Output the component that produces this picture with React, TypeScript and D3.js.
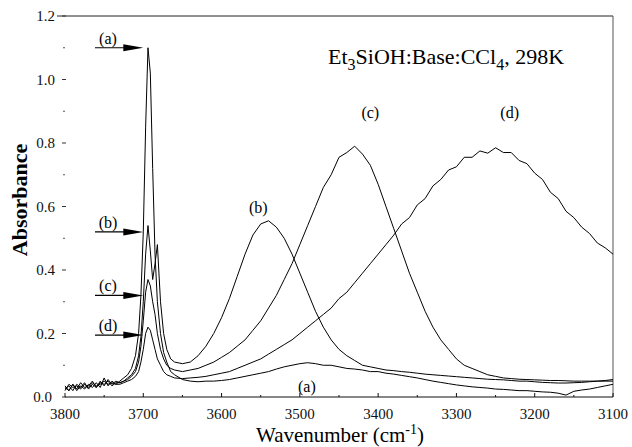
import React from "react";
import * as d3 from "d3";

// ---- data ----
const wavenumbers = [
  3800, 3795, 3790, 3785, 3780, 3775, 3770, 3765, 3760, 3755, 3750, 3745, 3740, 3735, 3730,
  3725, 3720, 3715, 3710, 3706, 3703, 3700, 3697, 3694, 3691, 3688, 3685, 3682, 3678, 3674, 3670, 3665, 3660,
  3650, 3640, 3630, 3620, 3610, 3600, 3590, 3580, 3570, 3560, 3550, 3540, 3530, 3520, 3510, 3500,
  3490, 3480, 3470, 3460, 3450, 3440, 3430, 3420, 3410, 3400, 3390, 3380, 3370, 3360, 3350, 3340,
  3330, 3320, 3310, 3300, 3290, 3280, 3270, 3260, 3250, 3240, 3230, 3220, 3210, 3200, 3190, 3180,
  3170, 3160, 3150, 3140, 3130, 3120, 3110, 3100,
];

const seriesA = [
  0.03, 0.02, 0.04, 0.02, 0.035, 0.025, 0.04, 0.03, 0.045, 0.03, 0.06, 0.035, 0.05, 0.04, 0.05,
  0.06, 0.07, 0.09, 0.13, 0.2, 0.32, 0.52, 0.85, 1.1, 1.02, 0.72, 0.45, 0.3, 0.2, 0.14, 0.11, 0.08, 0.07,
  0.055, 0.05, 0.048, 0.05, 0.05, 0.052, 0.055, 0.06, 0.065, 0.07, 0.075, 0.08, 0.088, 0.095, 0.1, 0.105,
  0.108, 0.105, 0.1, 0.1, 0.095, 0.09, 0.088, 0.085, 0.08, 0.08, 0.075, 0.072, 0.068, 0.064, 0.06, 0.055,
  0.05, 0.046, 0.042, 0.038, 0.035, 0.032, 0.03, 0.028, 0.025, 0.024, 0.022, 0.02, 0.02, 0.018, 0.016, 0.015,
  0.012, 0.006, 0.018, 0.022, 0.025, 0.03, 0.035, 0.04,
];

const seriesB = [
  0.025, 0.035, 0.02, 0.04, 0.03, 0.045, 0.025, 0.04, 0.03, 0.05, 0.035, 0.055, 0.04, 0.05, 0.045,
  0.05, 0.06, 0.07, 0.09, 0.13, 0.19, 0.3, 0.45, 0.54, 0.46, 0.37, 0.42, 0.48, 0.3, 0.2, 0.15, 0.12, 0.11,
  0.105, 0.11, 0.13, 0.16, 0.2, 0.25, 0.31, 0.38, 0.45, 0.51, 0.545, 0.555, 0.535, 0.5, 0.45, 0.39,
  0.33, 0.27, 0.22, 0.18, 0.15, 0.13, 0.115, 0.1, 0.095, 0.09, 0.085, 0.083, 0.08, 0.078, 0.075, 0.072,
  0.07, 0.068, 0.066, 0.064, 0.062, 0.06, 0.058, 0.056, 0.055, 0.054, 0.052, 0.05, 0.05, 0.048, 0.046, 0.045,
  0.044, 0.044, 0.045, 0.046, 0.048, 0.05, 0.052, 0.055,
];

const seriesC = [
  0.035, 0.02, 0.04, 0.025, 0.045, 0.03, 0.035, 0.05, 0.03, 0.045, 0.04, 0.05, 0.035, 0.045, 0.045,
  0.05, 0.055, 0.065, 0.08, 0.11, 0.16, 0.24, 0.33, 0.37, 0.35, 0.3, 0.26, 0.2, 0.15, 0.12, 0.1, 0.09, 0.085,
  0.08, 0.085, 0.09, 0.1, 0.11, 0.125, 0.14, 0.16, 0.18, 0.21, 0.24, 0.28, 0.32, 0.37, 0.42, 0.48,
  0.54, 0.6, 0.66, 0.7, 0.755, 0.77, 0.79, 0.765, 0.73, 0.67, 0.6, 0.53, 0.46, 0.39, 0.33, 0.27,
  0.22, 0.18, 0.15, 0.12, 0.1, 0.09, 0.08, 0.07, 0.065, 0.06, 0.058, 0.056, 0.055, 0.054, 0.053, 0.052,
  0.052, 0.051, 0.05, 0.05, 0.05, 0.05, 0.05, 0.05,
];

const seriesD = [
  0.02, 0.04, 0.03, 0.035, 0.025, 0.04, 0.03, 0.045, 0.035, 0.04, 0.05, 0.04, 0.045, 0.04, 0.04,
  0.045, 0.05, 0.055, 0.065, 0.08, 0.11, 0.15, 0.2, 0.22, 0.21, 0.18, 0.15, 0.12, 0.1, 0.08, 0.07, 0.065, 0.06,
  0.058, 0.06, 0.062, 0.065, 0.07, 0.075, 0.08, 0.09, 0.1, 0.11, 0.12, 0.135, 0.15, 0.165, 0.18, 0.2,
  0.22, 0.24, 0.26, 0.28, 0.31, 0.33, 0.36, 0.39, 0.42, 0.45, 0.48, 0.51, 0.545, 0.565, 0.605, 0.625,
  0.665, 0.685, 0.715, 0.725, 0.755, 0.755, 0.775, 0.768, 0.785, 0.77, 0.77, 0.745, 0.735, 0.705, 0.685, 0.645,
  0.625, 0.585, 0.565, 0.535, 0.515, 0.485, 0.47, 0.45,
];

const seriesList = [seriesA, seriesB, seriesC, seriesD];

const xTicks = [3800, 3700, 3600, 3500, 3400, 3300, 3200, 3100];
const xMinorTicks = [3750, 3650, 3550, 3450, 3350, 3250, 3150];
const yTicks = [0.0, 0.2, 0.4, 0.6, 0.8, 1.0, 1.2];
const yMinorTicks = [0.1, 0.3, 0.5, 0.7, 0.9, 1.1];

// arrow labels at the free O-H peak
const arrowLabels = ["(a)", "(b)", "(c)", "(d)"];
const arrowLevels = [1.1, 0.52, 0.32, 0.195];
const arrowTipWavenumber = 3700;

// band labels
const bandLabels = ["(b)", "(c)", "(d)", "(a)"];
const bandLabelWavenumbers = [3553, 3410, 3232, 3491];
const bandLabelLevels = [0.58, 0.88, 0.88, 0.016];

const W = 632;
const H = 447;

export default function App() {
  const x = d3.scaleLinear().domain([3800, 3100]).range([65, 613]);
  const y = d3.scaleLinear().domain([0, 1.2]).range([397, 16]);

  const line = d3
    .line<number>()
    .x((_, i) => x(wavenumbers[i]))
    .y((d) => y(d));

  const serif = "'Liberation Serif', 'DejaVu Serif', serif";

  return (
    <svg
      width={W}
      height={H}
      style={{ position: "absolute", left: 0, top: 0, background: "#fff" }}
      fontFamily={serif}
    >
      {/* frame: top and right */}
      <line x1={57} x2={x(3100)} y1={y(1.2)} y2={y(1.2)} stroke="#222" strokeWidth={1} />
      <line x1={x(3100)} x2={x(3100)} y1={y(1.2)} y2={y(0)} stroke="#555" strokeWidth={1} />
      {/* bottom axis */}
      <line x1={x(3800)} x2={x(3100)} y1={y(0)} y2={y(0)} stroke="#111" strokeWidth={1} />
      {xTicks.map((t) => (
        <g key={"xt" + t}>
          <line x1={x(t)} x2={x(t)} y1={y(0)} y2={y(0) - 4} stroke="#111" />
          <text x={x(t)} y={y(0) + 22} textAnchor="middle" fontSize={15} fill="#111">
            {t}
          </text>
        </g>
      ))}
      {xMinorTicks.map((t) => (
        <line key={"xm" + t} x1={x(t)} x2={x(t)} y1={y(0)} y2={y(0) - 2} stroke="#111" />
      ))}
      {/* left ticks (axis line faint in the scan) */}
      {yTicks.map((t) => (
        <g key={"yt" + t}>
          <line x1={x(3800) - 3} x2={x(3800) + 1} y1={y(t)} y2={y(t)} stroke="#333" />
          <text
            x={t === 0 ? 52 : 55}
            y={y(t) + 5}
            textAnchor="end"
            fontSize={15}
            fill="#111"
          >
            {t.toFixed(1)}
          </text>
        </g>
      ))}
      {yMinorTicks.map((t) => (
        <line key={"ym" + t} x1={x(3800) - 2} x2={x(3800)} y1={y(t)} y2={y(t)} stroke="#555" />
      ))}

      {/* spectra */}
      {seriesList.map((s, i) => (
        <path key={"s" + i} d={line(s) || ""} fill="none" stroke="#000" strokeWidth={1} />
      ))}

      {/* arrows with labels */}
      {arrowLabels.map((lab, i) => {
        const yy = y(arrowLevels[i]);
        const tip = x(arrowTipWavenumber);
        return (
          <g key={"ar" + i}>
            <line x1={95} x2={tip - 15} y1={yy} y2={yy} stroke="#000" strokeWidth={1.2} />
            <path
              d={`M${tip - 20},${yy - 3.5} L${tip},${yy} L${tip - 20},${yy + 3.5} Z`}
              fill="#000"
            />
            <text x={108} y={yy - 4} textAnchor="middle" fontSize={16} fill="#000">
              {lab}
            </text>
          </g>
        );
      })}

      {/* band labels */}
      {bandLabels.map((lab, i) => (
        <text
          key={"bl" + i}
          x={x(bandLabelWavenumbers[i])}
          y={y(bandLabelLevels[i])}
          textAnchor="middle"
          fontSize={16}
          fill="#000"
        >
          {lab}
        </text>
      ))}

      {/* title */}
      <text x={328} y={64} fontSize={22} fill="#000">
        Et
        <tspan dy={6} fontSize={16}>3</tspan>
        <tspan dy={-6}>SiOH:Base:CCl</tspan>
        <tspan dy={6} fontSize={16}>4</tspan>
        <tspan dy={-6}>, 298K</tspan>
      </text>

      {/* axis titles */}
      <text
        transform={`translate(27,200) rotate(-90)`}
        textAnchor="middle"
        fontSize={22}
        fontWeight={600}
        fill="#000"
      >
        Absorbance
      </text>
      <text x={340} y={442} textAnchor="middle" fontSize={21} fill="#000">
        Wavenumber (cm
        <tspan dy={-8} fontSize={14}>-1</tspan>
        <tspan dy={8}>)</tspan>
      </text>
    </svg>
  );
}
